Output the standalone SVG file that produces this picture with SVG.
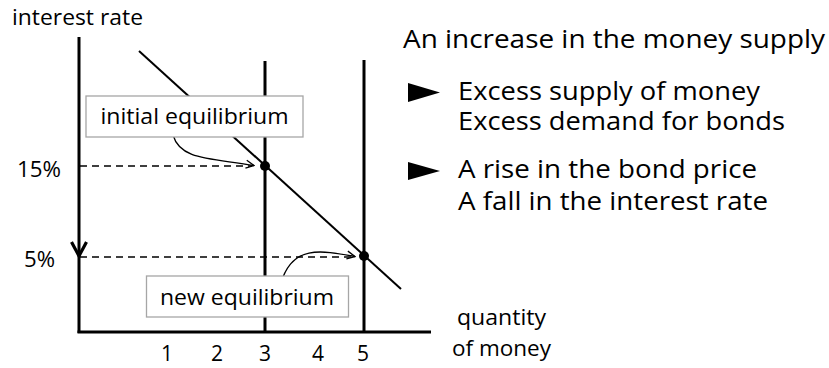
<svg xmlns="http://www.w3.org/2000/svg" width="829" height="368" viewBox="0 0 829 368">
<defs>
<style>
text{font-family:"Open Sans","Noto Sans",Lato,sans-serif;fill:#000}
.t20{font-size:21px}
.t21{font-size:21px}
.t27{font-size:26px}
.ax{stroke:#000;stroke-width:3;fill:none}
.dm{stroke:#000;stroke-width:2;fill:none}
.dash{stroke:#000;stroke-width:1.5;stroke-dasharray:7 5;fill:none}
.cv{stroke:#000;stroke-width:1.3;fill:none}
.box{fill:#fff;stroke:#a6a6a6;stroke-width:1.3}
</style>
<marker id="open" viewBox="0 0 10 10" refX="9" refY="5" markerWidth="10" markerHeight="10" markerUnits="userSpaceOnUse" orient="auto">
<path d="M1,1 L9,5 L1,9" fill="none" stroke="#000" stroke-width="1.3"/>
</marker>
</defs>
<g id="axes">
<line class="ax" x1="79" y1="37" x2="79" y2="333"/>
<line class="ax" x1="77.5" y1="332" x2="431" y2="332"/>
<path d="M71.5,242 L79,256 L86.5,242" fill="none" stroke="#000" stroke-width="3.2"/>
</g>
<g id="supply-lines">
<line class="ax" x1="265" y1="61" x2="265" y2="333"/>
<line class="ax" x1="364" y1="60" x2="364" y2="333"/>
</g>
<g id="demand">
<line class="dm" x1="139" y1="51" x2="401" y2="289"/>
</g>
<g id="connectors">
<line class="dash" x1="80" y1="166" x2="252" y2="166"/>
<line class="dash" x1="80" y1="257" x2="352" y2="257"/>
<path class="cv" d="M173,135 C180,160 210,158 254,165.5" marker-end="url(#open)"/>
<path class="cv" d="M281,283 C292,245 320,250 355,256.5" marker-end="url(#open)"/>
</g>
<g id="initial-eq">
<circle cx="265" cy="166" r="5"/>
</g>
<g id="new-eq">
<circle cx="364" cy="256" r="5"/>
</g>
<g id="box-initial">
<rect class="box" x="86" y="96" width="217" height="41"/>
<text class="t21" x="194.5" y="124" text-anchor="middle" textLength="188" lengthAdjust="spacingAndGlyphs">initial equilibrium</text>
</g>
<g id="box-new">
<rect class="box" x="146.5" y="276" width="202" height="41"/>
<text class="t21" x="247" y="305" text-anchor="middle" textLength="174" lengthAdjust="spacingAndGlyphs">new equilibrium</text>
</g>
<g id="labels">
<text class="t20" x="12" y="25" textLength="131" lengthAdjust="spacingAndGlyphs">interest rate</text>
<text class="t20" x="17" y="177" textLength="44" lengthAdjust="spacingAndGlyphs">15%</text>
<text class="t20" x="24" y="267" textLength="31" lengthAdjust="spacingAndGlyphs">5%</text>
<text class="t20" x="167" y="361" text-anchor="middle">1</text>
<text class="t20" x="217" y="361" text-anchor="middle">2</text>
<text class="t20" x="265" y="361" text-anchor="middle">3</text>
<text class="t20" x="318" y="361" text-anchor="middle">4</text>
<text class="t20" x="363" y="361" text-anchor="middle">5</text>
<text class="t20" x="457" y="325" textLength="89" lengthAdjust="spacingAndGlyphs">quantity</text>
<text class="t20" x="452" y="356" textLength="99" lengthAdjust="spacingAndGlyphs">of money</text>
</g>
<g id="explanation">
<text class="t27" x="403" y="48" textLength="422" lengthAdjust="spacingAndGlyphs">An increase in the money supply</text>
<polygon points="408,83 440,92.5 408,102"/>
<text class="t27" x="458" y="100" textLength="302" lengthAdjust="spacingAndGlyphs">Excess supply of money</text>
<text class="t27" x="458" y="130" textLength="327" lengthAdjust="spacingAndGlyphs">Excess demand for bonds</text>
<polygon points="408,162 440,171 408,180"/>
<text class="t27" x="458" y="178" textLength="299" lengthAdjust="spacingAndGlyphs">A rise in the bond price</text>
<text class="t27" x="458" y="210" textLength="310" lengthAdjust="spacingAndGlyphs">A fall in the interest rate</text>
</g>
</svg>
